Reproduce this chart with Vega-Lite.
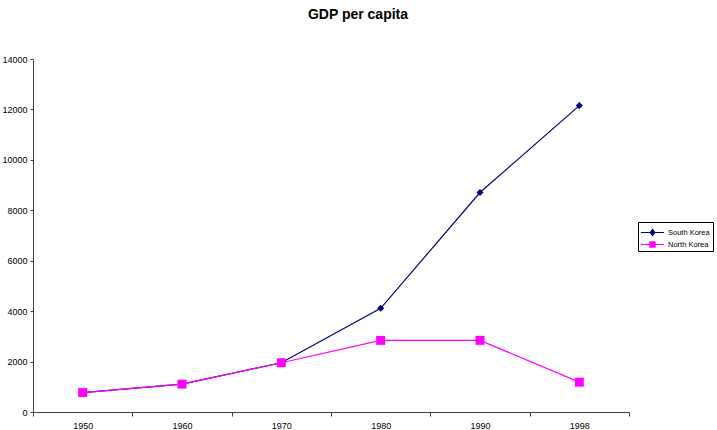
{
  "$schema": "https://vega.github.io/schema/vega-lite/v6.json",
  "width": 596,
  "height": 353,
  "autosize": {"type": "none"},
  "padding": {"left": 33, "top": 59, "right": 88, "bottom": 18},
  "background": "white",
  "title": {
    "text": "GDP per capita",
    "font": "Liberation Sans",
    "fontSize": 14,
    "fontWeight": "bold",
    "color": "#000000",
    "anchor": "middle",
    "dx": 27,
    "offset": 33
  },
  "data": {
    "values": [
      {"year": "1950", "country": "South Korea", "gdp": 770},
      {"year": "1960", "country": "South Korea", "gdp": 1105},
      {"year": "1970", "country": "South Korea", "gdp": 1954},
      {"year": "1980", "country": "South Korea", "gdp": 4114},
      {"year": "1990", "country": "South Korea", "gdp": 8704},
      {"year": "1998", "country": "South Korea", "gdp": 12152},
      {"year": "1950", "country": "North Korea", "gdp": 770},
      {"year": "1960", "country": "North Korea", "gdp": 1105},
      {"year": "1970", "country": "North Korea", "gdp": 1954},
      {"year": "1980", "country": "North Korea", "gdp": 2841},
      {"year": "1990", "country": "North Korea", "gdp": 2841},
      {"year": "1998", "country": "North Korea", "gdp": 1183}
    ]
  },
  "config": {
    "view": {"stroke": null},
    "axis": {
      "labelFont": "Liberation Sans Narrow, Liberation Sans",
      "labelFontSize": 9,
      "labelColor": "#000000",
      "domainColor": "#404040",
      "tickColor": "#404040",
      "grid": false,
      "title": null
    }
  },
  "encoding": {
    "x": {
      "field": "year",
      "type": "ordinal",
      "scale": {"paddingInner": 0, "paddingOuter": 0},
      "axis": {"labelAngle": 0, "tickBand": "extent", "tickSize": 4, "labelPadding": 5}
    },
    "y": {
      "field": "gdp",
      "type": "quantitative",
      "scale": {"domain": [0, 14000], "nice": false},
      "axis": {"values": [0, 2000, 4000, 6000, 8000, 10000, 12000, 14000], "format": "d", "tickSize": 3, "labelPadding": 3}
    },
    "color": {
      "field": "country",
      "type": "nominal",
      "scale": {"domain": ["South Korea", "North Korea"], "range": ["#000080", "#FF00FF"]},
      "legend": {
        "title": null,
        "orient": "none",
        "legendX": 605,
        "legendY": 163,
        "strokeColor": "#000000",
        "fillColor": "white",
        "padding": 3,
        "labelFont": "Liberation Sans Narrow, Liberation Sans",
        "labelFontSize": 7.5,
        "labelColor": "#000000",
        "symbolSize": 225,
        "symbolOffset": 4,
        "labelOffset": 8,
        "symbolStrokeWidth": 0,
        "symbolFillColor": "#000000",
        "rowPadding": 0,
        "encode": {
          "symbols": {
            "update": {
              "shape": [
                {"test": "datum.value === 'South Korea'", "value": "M-1.55,-0.07H1.55V0.07H-1.55Z M0,-0.53L0.4,0L0,0.53L-0.4,0Z"},
                {"value": "M-1.55,-0.07H1.55V0.07H-1.55Z M-0.42,-0.42H0.42V0.42H-0.42Z"}
              ],
              "fill": [
                {"test": "datum.value === 'South Korea'", "value": "#000080"},
                {"value": "#FF00FF"}
              ],
              "strokeWidth": {"value": 0}
            }
          }
        }
      }
    }
  },
  "layer": [
    {
      "mark": {"type": "line", "strokeWidth": 1.2},
      "encoding": {}
    },
    {
      "transform": [{"filter": "datum.country === 'South Korea'"}],
      "mark": {"type": "point", "filled": true, "opacity": 1, "shape": "diamond", "size": 50},
      "encoding": {}
    },
    {
      "transform": [{"filter": "datum.country === 'North Korea'"}],
      "mark": {"type": "point", "filled": true, "opacity": 1, "shape": "square", "size": 80},
      "encoding": {}
    }
  ]
}
